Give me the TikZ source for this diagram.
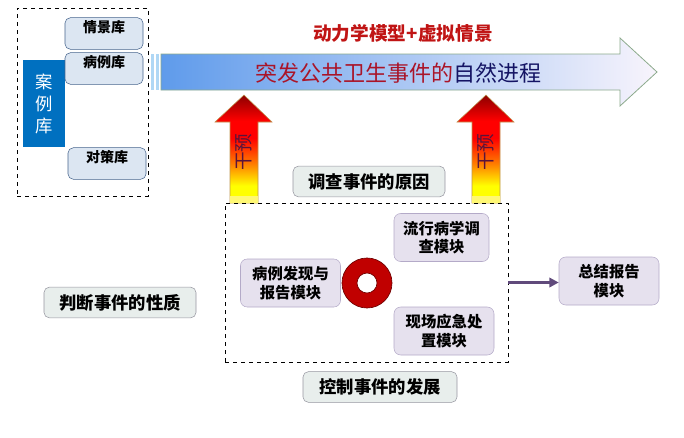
\documentclass[tikz,border=0pt]{standalone}
\usepackage{fontspec}
\setmainfont{Noto Sans CJK SC}
\usepackage{tikz}
\usetikzlibrary{calc,arrows.meta,positioning}
\definecolor{caseBlue}{RGB}{0,112,192}
\definecolor{libFill}{RGB}{220,230,242}
\definecolor{libEdge}{RGB}{70,100,140}
\definecolor{stepFill}{RGB}{232,238,236}
\definecolor{stepEdge}{RGB}{150,150,160}
\definecolor{modFill}{RGB}{230,225,238}
\definecolor{modEdge}{RGB}{180,170,200}
\definecolor{ringRed}{RGB}{192,0,0}
\definecolor{ringDark}{RGB}{110,0,0}
\definecolor{linkPurple}{RGB}{96,74,123}
\definecolor{titleRed}{RGB}{192,20,20}
\definecolor{procRed}{RGB}{170,20,40}
\definecolor{procNavy}{RGB}{20,20,100}
\definecolor{flowL}{RGB}{95,155,235}
\definecolor{flowM}{RGB}{175,215,245}
\definecolor{flowR}{RGB}{248,244,252}
\definecolor{flowEdge}{RGB}{140,170,140}
\definecolor{ganyuText}{RGB}{90,20,60}
\definecolor{ganyuEdge}{RGB}{190,150,80}
\pgfdeclareverticalshading{ganyu}{100bp}{color(0bp)=(yellow); color(33bp)=(yellow);
    color(43bp)=(orange); color(55bp)=(red); color(63bp)=(red);
    color(75bp)=(red!55!black); color(100bp)=(red!55!black)}

\begin{document}
\begin{tikzpicture}[x=0.75pt,y=0.75pt,
    libbox/.style={draw=libEdge, fill=libFill, rounded corners=4pt, minimum width=58.5pt,
        minimum height=23.25pt, font=\bfseries\fontsize{10.5}{12}\selectfont,
        text height=8pt, text depth=9pt},
    stepbox/.style={draw=stepEdge, fill=stepFill, rounded corners=4pt, minimum width=114pt,
        minimum height=23pt, font=\bfseries\fontsize{13}{15}\selectfont},
    modbox/.style={draw=modEdge, fill=modFill, rounded corners=5pt, minimum width=75pt,
        minimum height=36pt, align=center, font=\bfseries\fontsize{11.5}{13.8}\selectfont},
    dashbox/.style={draw, dashed, line width=0.6pt}]
    \useasboundingbox (0,0) rectangle (684,437);

    % case library
    \begin{scope}
        \node[dashbox, minimum width=98.25pt, minimum height=141pt] (lib) at (82.5,335) {};
        \node[fill=caseBlue, text=white, minimum width=31.5pt, minimum height=65.25pt,
            align=center, font=\fontsize{13}{16.5}\selectfont] (case) at (44,333.5) {案\\例\\库};
        \node[libbox] (scene) at (104,403.5) {情景库};
        \node[libbox] (cases) at (104,368.5) {病例库};
        \node[libbox] (policy) at (107,273.5) {对策库};
    \end{scope}

    % natural course arrow
    \begin{scope}
        \fill[flowM] (151,347) rectangle (154,383);
        \fill[flowM] (156,347) rectangle (159,383);
        \shadedraw[draw=flowEdge, line width=0.6pt, left color=flowL, middle color=flowM, right color=flowR]
            (161,347) -- (161,383) -- (620,383) -- (620,399) -- (657,365) -- (620,331) -- (620,347) -- cycle;
        \node[font=\bfseries\fontsize{14}{16}\selectfont, text=titleRed] (title) at (403,404) {动力学模型+虚拟情景};
        \node[font=\fontsize{16.5}{18}\selectfont] (course) at (398,364)
            {\textcolor{procRed}{突发公共卫生事件的}\textcolor{procNavy}{自然进程}};
    \end{scope}

    % intervention arrows
    \foreach \cx/\nm in {244/ganyuA,486/ganyuB}{
        \shadedraw[draw=ganyuEdge, line width=0.4pt, shading=ganyu]
            ({\cx-14},234) -- ({\cx-14},315) -- ({\cx-29},315) -- (\cx,342)
            -- ({\cx+28},315) -- ({\cx+14},315) -- ({\cx+14},234) -- cycle;
        \fill[yellow!55!white] ({\cx-14},234) rectangle ({\cx+14},241);
        \node[rotate=90, text=ganyuText, font=\fontsize{14}{15}\selectfont] (\nm) at (\cx,285) {干预};
    }

    % response modules
    \node[stepbox] (cause) at (369,255.5) {调查事件的原因};
    \node[stepbox] (nature) at (120,134.5) {判断事件的性质};
    \node[stepbox, minimum width=115.5pt] (develop) at (380,50) {控制事件的发展};
    \node[dashbox, minimum width=212.25pt, minimum height=119.25pt] (ctrl) at (366.5,154.5) {};
    \node[modbox, minimum width=71.25pt] (epi) at (441.5,199.5) {流行病学调\\查模块};
    \node[modbox] (report) at (290.5,154) {病例发现与\\报告模块};
    \node[modbox] (field) at (444,106) {现场应急处\\置模块};
    \draw[draw=ringDark, fill=ringRed, even odd rule, line width=0.5pt]
        (367,154) circle (25) (367,154) circle (10);
    \node[modbox] (summary) at (609,156) {总结报告\\模块};
    \draw[linkPurple, line width=2.25pt, -{Triangle[length=7pt,width=7pt]}]
        (ctrl.east) -- (ctrl.east -| summary.west);
\end{tikzpicture}
\end{document}
